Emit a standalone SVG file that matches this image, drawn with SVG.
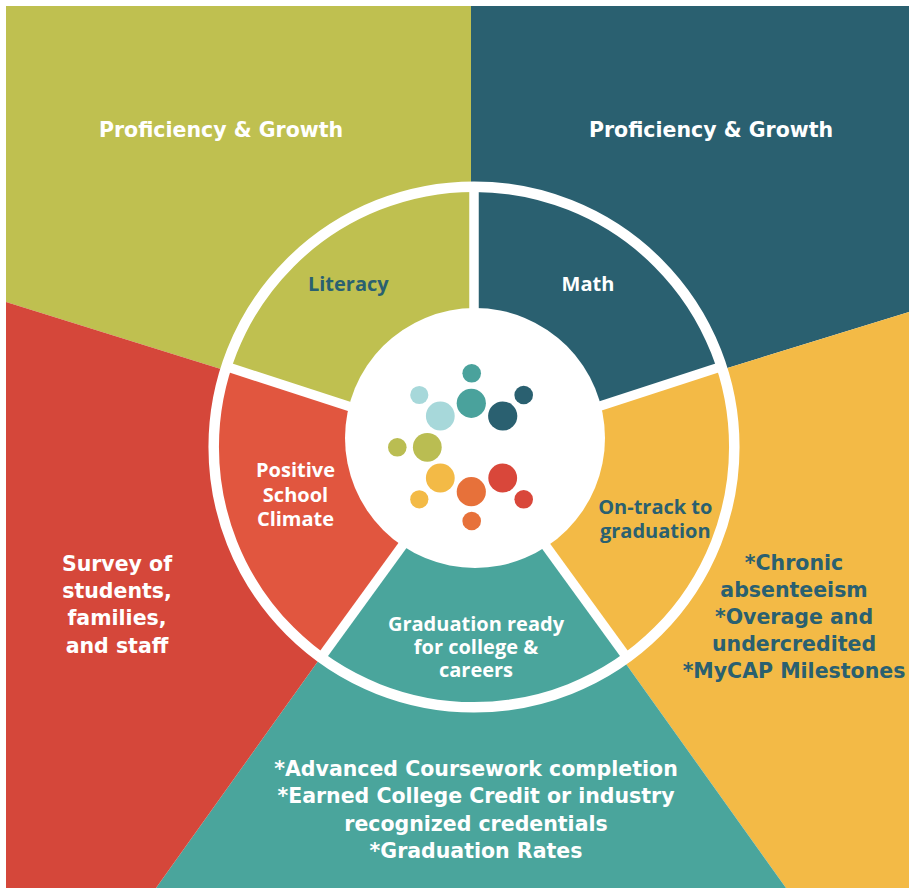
<svg xmlns="http://www.w3.org/2000/svg" width="909" height="888" viewBox="0 0 909 888">
<style>
.outer{font-family:"DejaVu Sans","Liberation Sans",sans-serif;font-weight:bold;font-size:20.5px;text-anchor:middle}
.inner{font-family:"Open Sans","Liberation Sans",sans-serif;font-weight:bold;font-size:20px;text-anchor:middle}
.w{fill:#ffffff}
.d{fill:#2A6070}
.olive{fill:#BFC050}
.navy{fill:#2A6070}
.yel{fill:#F3BA46}
.teal{fill:#4AA59C}
.red{fill:#D5473A}
.red2{fill:#E1563F}
.spoke{stroke:#ffffff;stroke-width:9.5;fill:none}
</style>
<rect width="909" height="888" fill="#ffffff"/>

<g id="outer-literacy">
<polygon class="olive" points="471,447 471,6 6,6 6,302"/>
<text class="outer w" x="221" y="137.3">Proficiency &amp; Growth</text>
</g>
<g id="outer-math">
<polygon class="navy" points="471,447 471,6 909,6 909,312"/>
<text class="outer w" x="711" y="137.3">Proficiency &amp; Growth</text>
</g>
<g id="outer-ontrack">
<polygon class="yel" points="471,447 909,312 909,888 786,888"/>
<text class="outer d" x="794" y="570">*Chronic</text>
<text class="outer d" x="794" y="597">absenteeism</text>
<text class="outer d" x="794" y="624">*Overage and</text>
<text class="outer d" x="794" y="651">undercredited</text>
<text class="outer d" x="794" y="678">*MyCAP Milestones</text>
</g>
<g id="outer-graduation">
<polygon class="teal" points="471,447 786,888 156,888"/>
<text class="outer w" x="476" y="776">*Advanced Coursework completion</text>
<text class="outer w" x="476" y="803.3">*Earned College Credit or industry</text>
<text class="outer w" x="476" y="830.7">recognized credentials</text>
<text class="outer w" x="476" y="858">*Graduation Rates</text>
</g>
<g id="outer-climate">
<polygon class="red" points="471,447 156,888 6,888 6,302"/>
<text class="outer w" x="117" y="570.7">Survey of</text>
<text class="outer w" x="117" y="598">students,</text>
<text class="outer w" x="117" y="625.4">families,</text>
<text class="outer w" x="117" y="652.7">and staff</text>
</g>

<g id="seg-literacy">
<path class="olive" d="M474,447 L228.6,367.3 A258,258 0 0 1 474,189 Z"/>
</g>
<g id="seg-math">
<path class="navy" d="M474,447 L474,189 A258,258 0 0 1 719.4,367.3 Z"/>
</g>
<g id="seg-ontrack">
<path class="yel" d="M474,447 L719.4,367.3 A258,258 0 0 1 625.7,655.7 Z"/>
</g>
<g id="seg-graduation">
<path class="teal" d="M474,447 L625.7,655.7 A258,258 0 0 1 322.3,655.7 Z"/>
</g>
<g id="seg-climate">
<path class="red2" d="M474,447 L322.3,655.7 A258,258 0 0 1 228.6,367.3 Z"/>
</g>

<g id="connectors">
<line class="spoke" x1="474" y1="447" x2="474" y2="185"/>
<line class="spoke" x1="474" y1="447" x2="723.2" y2="366"/>
<line class="spoke" x1="474" y1="447" x2="628" y2="659"/>
<line class="spoke" x1="474" y1="447" x2="320" y2="659"/>
<line class="spoke" x1="474" y1="447" x2="224.8" y2="366"/>
<circle cx="474" cy="447" r="260.3" fill="none" stroke="#ffffff" stroke-width="10.5"/>
</g>

<g id="labels">
<text class="inner d" x="348.3" y="290.7">Literacy</text>
<text class="inner w" x="588" y="291">Math</text>
<text class="inner w" x="295.5" y="477.3">Positive</text>
<text class="inner w" x="295.5" y="501.5">School</text>
<text class="inner w" x="295.5" y="525.5">Climate</text>
<text class="inner d" x="655.3" y="513.5">On-track to</text>
<text class="inner d" x="655.3" y="537.5">graduation</text>
<text class="inner w" x="476" y="630.7">Graduation ready</text>
<text class="inner w" x="476" y="654">for college &amp;</text>
<text class="inner w" x="476" y="677.3">careers</text>
</g>

<g id="center">
<circle cx="475" cy="438" r="130" fill="#ffffff"/>
<circle cx="471.7" cy="373.3" r="9.3" fill="#4AA29C"/>
<circle cx="419.3" cy="395" r="9.1" fill="#A7D8DA"/>
<circle cx="471.3" cy="403.3" r="14.6" fill="#4AA29C"/>
<circle cx="523.7" cy="395" r="9.3" fill="#2A6070"/>
<circle cx="440.3" cy="416" r="14.4" fill="#A7D8DA"/>
<circle cx="502.7" cy="416" r="14.6" fill="#2A6070"/>
<circle cx="397.3" cy="447.3" r="9.3" fill="#BABD52"/>
<circle cx="427.3" cy="447.3" r="14.4" fill="#BABD52"/>
<circle cx="440.3" cy="478" r="14.4" fill="#F3BA46"/>
<circle cx="502.7" cy="478" r="14.4" fill="#D9473A"/>
<circle cx="471.3" cy="491.7" r="14.6" fill="#E7713A"/>
<circle cx="419.3" cy="499.3" r="9.1" fill="#F3BA46"/>
<circle cx="523.7" cy="499.3" r="9.3" fill="#D9473A"/>
<circle cx="471.7" cy="521" r="9.3" fill="#E7713A"/>
</g>
</svg>
